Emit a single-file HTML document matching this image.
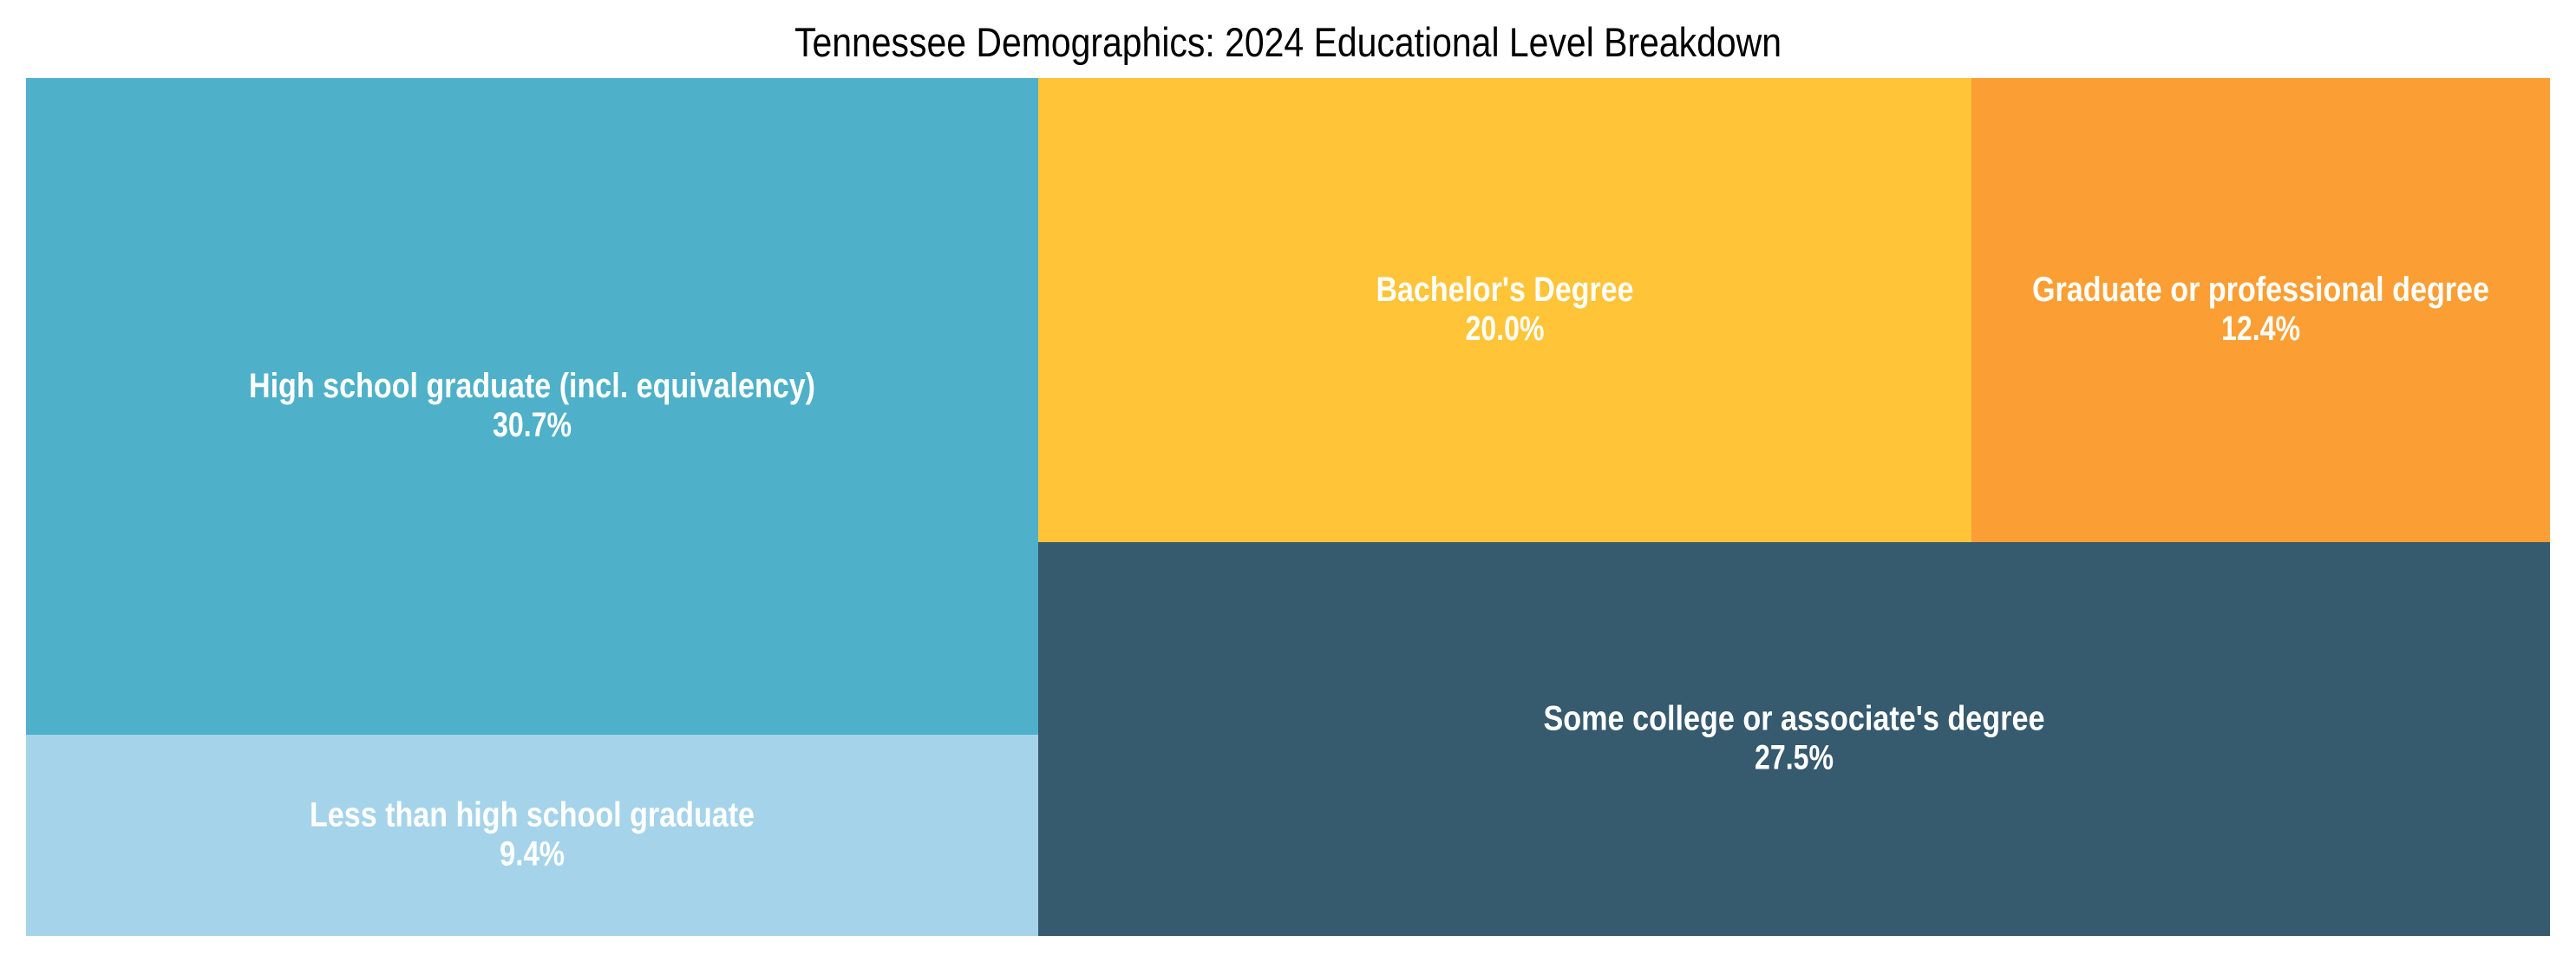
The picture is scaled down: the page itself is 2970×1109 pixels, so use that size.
<!DOCTYPE html>
<html><head><meta charset="utf-8"><style>
html,body{margin:0;padding:0;background:#fff;}
svg{display:block;}
text{font-family:"Liberation Sans",Arial,sans-serif;}
.l{font-weight:bold;font-size:40px;fill:#fff;text-anchor:middle;}
</style></head><body>
<svg width="2970" height="1109" viewBox="0 0 2970 1109" xmlns="http://www.w3.org/2000/svg">
<rect width="2970" height="1109" fill="#fff"/>
<text x="1485" y="65" font-size="47" text-anchor="middle" textLength="1138" lengthAdjust="spacingAndGlyphs" fill="#000">Tennessee Demographics: 2024 Educational Level Breakdown</text>
<rect x="30" y="90" width="1167" height="757" fill="#4eb0c9"/>
<rect x="30" y="847" width="1167" height="232" fill="#a5d4ea"/>
<rect x="1197" y="90" width="1076" height="535" fill="#ffc437"/>
<rect x="2273" y="90" width="667" height="535" fill="#fb9e33"/>
<rect x="1197" y="625" width="1743" height="454" fill="#365a6e"/>

<text class="l" x="613.5" y="458" textLength="653" lengthAdjust="spacingAndGlyphs">High school graduate (incl. equivalency)</text>
<text class="l" x="613.5" y="503" textLength="91" lengthAdjust="spacingAndGlyphs">30.7%</text>

<text class="l" x="613.5" y="952.5" textLength="513" lengthAdjust="spacingAndGlyphs">Less than high school graduate</text>
<text class="l" x="613.5" y="997.5" textLength="75" lengthAdjust="spacingAndGlyphs">9.4%</text>

<text class="l" x="1735" y="347" textLength="297" lengthAdjust="spacingAndGlyphs">Bachelor's Degree</text>
<text class="l" x="1735" y="392" textLength="91" lengthAdjust="spacingAndGlyphs">20.0%</text>

<text class="l" x="2606.5" y="347" textLength="527" lengthAdjust="spacingAndGlyphs">Graduate or professional degree</text>
<text class="l" x="2606.5" y="392" textLength="91" lengthAdjust="spacingAndGlyphs">12.4%</text>

<text class="l" x="2068.5" y="841.5" textLength="578" lengthAdjust="spacingAndGlyphs">Some college or associate's degree</text>
<text class="l" x="2068.5" y="886.5" textLength="91" lengthAdjust="spacingAndGlyphs">27.5%</text>
</svg>
</body></html>
